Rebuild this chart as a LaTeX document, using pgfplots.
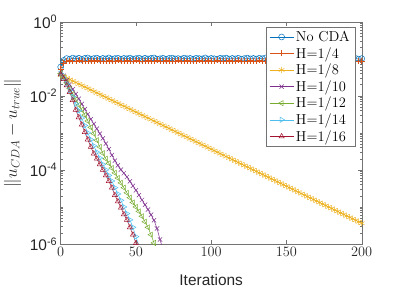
\documentclass[border=0pt]{standalone}
\usepackage{pgfplots}
\pgfplotsset{compat=1.18}
\usepackage{fontspec}
\newfontfamily\arial{Liberation Sans}
\definecolor{mblue}{rgb}{0,0.447,0.741}
\definecolor{morange}{rgb}{0.850,0.325,0.098}
\definecolor{myellow}{rgb}{0.929,0.694,0.125}
\definecolor{mpurple}{rgb}{0.494,0.184,0.556}
\definecolor{mgreen}{rgb}{0.466,0.674,0.188}
\definecolor{mcyan}{rgb}{0.301,0.745,0.933}
\definecolor{mred}{rgb}{0.635,0.078,0.184}
\begin{document}
\begin{tikzpicture}
\begin{axis}[
 name=ax, at={(0,0)}, anchor=south west,
 scale only axis, width=301bp, height=222.3bp,
 xmin=0, xmax=200, ymin=1e-6, ymax=1,
 ymode=log,
 xtick={0,50,100,150,200},
 ytick={1e-6,1e-4,1e-2,1},
 yticklabels={10\textsuperscript{-6},10\textsuperscript{-4},10\textsuperscript{-2},10\textsuperscript{0}},
 minor ytick={2e-6,3e-6,4e-6,5e-6,6e-6,7e-6,8e-6,9e-6,1e-5,2e-5,3e-5,4e-5,5e-5,6e-5,7e-5,8e-5,9e-5,
   2e-4,3e-4,4e-4,5e-4,6e-4,7e-4,8e-4,9e-4,1e-3,2e-3,3e-3,4e-3,5e-3,6e-3,7e-3,8e-3,9e-3,
   2e-2,3e-2,4e-2,5e-2,6e-2,7e-2,8e-2,9e-2,1e-1,2e-1,3e-1,4e-1,5e-1,6e-1,7e-1,8e-1,9e-1},
 tick align=inside, tick pos=both,
 major tick length=4bp, minor tick length=2bp,
 axis line style={black!55},
 every tick/.style={black!55},
 ticklabel style={font=\arial\fontsize{15.5}{18}\selectfont, text=black!85},
 xlabel={Iterations},
 ylabel={$\|u_{CDA}-u_{true}\|$},
 xlabel style={font=\arial\fontsize{15.5}{18}\selectfont, text=black!85, at={(axis description cs:0.5,-0.162)}, anchor=center},
 ylabel style={font=\fontsize{18}{21}\selectfont, text=black!85, at={(axis description cs:-0.16,0.5)}, anchor=center},
 legend style={at={(1,1)}, anchor=north east, xshift=-6.7bp, yshift=-5bp,
   font=\fontsize{14.5}{16}\selectfont, draw=black!55, line width=0.5pt,
   nodes={inner sep=2.15pt}},
 legend cell align=left,
 legend image code/.code={\draw[mark repeat=2,mark phase=2,#1] plot coordinates {(0bp,0bp) (12bp,0bp) (24bp,0bp)};},
 every axis plot/.append style={line width=0.5pt},
]
\addplot[mblue, mark=o, mark size=3pt] coordinates {
(0,0.060)(2,0.090)(4,0.101)(6,0.097)(8,0.104)(10,0.099)(12,0.103)(14,0.096)(16,0.102)(18,0.105)(20,0.098)(22,0.101)(24,0.104)(26,0.097)(28,0.102)(30,0.099)(32,0.105)(34,0.098)(36,0.101)(38,0.103)(40,0.097)(42,0.102)(44,0.100)(46,0.104)(48,0.098)(50,0.101)(52,0.104)(54,0.097)(56,0.103)(58,0.099)(60,0.102)(62,0.105)(64,0.098)(66,0.100)(68,0.103)(70,0.097)(72,0.102)(74,0.104)(76,0.099)(78,0.101)(80,0.098)(82,0.104)(84,0.100)(86,0.102)(88,0.097)(90,0.103)(92,0.101)(94,0.099)(96,0.105)(98,0.098)(100,0.102)(102,0.100)(104,0.097)(106,0.103)(108,0.101)(110,0.104)(112,0.098)(114,0.102)(116,0.099)(118,0.103)(120,0.097)(122,0.101)(124,0.104)(126,0.099)(128,0.102)(130,0.098)(132,0.103)(134,0.100)(136,0.105)(138,0.098)(140,0.101)(142,0.103)(144,0.097)(146,0.102)(148,0.100)(150,0.104)(152,0.098)(154,0.101)(156,0.103)(158,0.099)(160,0.102)(162,0.097)(164,0.104)(166,0.100)(168,0.102)(170,0.098)(172,0.103)(174,0.101)(176,0.099)(178,0.104)(180,0.097)(182,0.102)(184,0.100)(186,0.103)(188,0.098)(190,0.101)(192,0.104)(194,0.099)(196,0.102)(198,0.098)(200,0.101)};
\addlegendentry{No CDA}
\addplot[morange, mark=+, mark size=3pt] coordinates {
(0,0.052)(2,0.078)(4,0.086)(6,0.089)(8,0.085)(10,0.088)(12,0.090)(14,0.086)(16,0.088)(18,0.085)(20,0.089)(22,0.087)(24,0.090)(26,0.086)(28,0.088)(30,0.085)(32,0.089)(34,0.087)(36,0.086)(38,0.090)(40,0.087)(42,0.085)(44,0.089)(46,0.088)(48,0.086)(50,0.090)(52,0.087)(54,0.085)(56,0.088)(58,0.089)(60,0.086)(62,0.088)(64,0.090)(66,0.085)(68,0.087)(70,0.089)(72,0.086)(74,0.088)(76,0.085)(78,0.090)(80,0.087)(82,0.086)(84,0.089)(86,0.088)(88,0.085)(90,0.087)(92,0.090)(94,0.086)(96,0.088)(98,0.089)(100,0.085)(102,0.087)(104,0.090)(106,0.086)(108,0.088)(110,0.085)(112,0.089)(114,0.087)(116,0.086)(118,0.090)(120,0.088)(122,0.085)(124,0.087)(126,0.089)(128,0.086)(130,0.088)(132,0.090)(134,0.085)(136,0.087)(138,0.089)(140,0.086)(142,0.088)(144,0.085)(146,0.090)(148,0.087)(150,0.086)(152,0.089)(154,0.088)(156,0.085)(158,0.087)(160,0.090)(162,0.086)(164,0.088)(166,0.089)(168,0.085)(170,0.087)(172,0.090)(174,0.086)(176,0.088)(178,0.085)(180,0.089)(182,0.087)(184,0.086)(186,0.090)(188,0.088)(190,0.085)(192,0.087)(194,0.089)(196,0.086)(198,0.088)(200,0.087)};
\addlegendentry{H=1/4}
\addplot[myellow, mark=asterisk, mark size=3.2pt] coordinates {
(0,3.631e-2)(2,3.311e-2)(4,3.020e-2)(6,2.754e-2)(8,2.512e-2)(10,2.291e-2)(12,2.089e-2)(14,1.905e-2)(16,1.738e-2)(18,1.585e-2)(20,1.445e-2)(22,1.318e-2)(24,1.202e-2)(26,1.096e-2)(28,1.000e-2)(30,9.12e-3)(32,8.32e-3)(34,7.59e-3)(36,6.92e-3)(38,6.31e-3)(40,5.75e-3)(42,5.25e-3)(44,4.79e-3)(46,4.37e-3)(48,3.981e-3)
(50,3.631e-3)(52,3.311e-3)(54,3.020e-3)(56,2.754e-3)(58,2.512e-3)(60,2.291e-3)(62,2.089e-3)(64,1.905e-3)(66,1.738e-3)(68,1.585e-3)(70,1.445e-3)(72,1.318e-3)(74,1.202e-3)(76,1.096e-3)(78,1.000e-3)(80,9.12e-4)(82,8.32e-4)(84,7.59e-4)(86,6.92e-4)(88,6.31e-4)(90,5.75e-4)(92,5.25e-4)(94,4.79e-4)(96,4.37e-4)(98,3.981e-4)
(100,3.631e-4)(102,3.311e-4)(104,3.020e-4)(106,2.754e-4)(108,2.512e-4)(110,2.291e-4)(112,2.089e-4)(114,1.905e-4)(116,1.738e-4)(118,1.585e-4)(120,1.445e-4)(122,1.318e-4)(124,1.202e-4)(126,1.096e-4)(128,1.000e-4)(130,9.12e-5)(132,8.32e-5)(134,7.59e-5)(136,6.92e-5)(138,6.31e-5)(140,5.75e-5)(142,5.25e-5)(144,4.79e-5)(146,4.37e-5)(148,3.981e-5)
(150,3.631e-5)(152,3.311e-5)(154,3.020e-5)(156,2.754e-5)(158,2.512e-5)(160,2.291e-5)(162,2.089e-5)(164,1.905e-5)(166,1.738e-5)(168,1.585e-5)(170,1.445e-5)(172,1.318e-5)(174,1.202e-5)(176,1.096e-5)(178,1.000e-5)(180,9.12e-6)(182,8.32e-6)(184,7.59e-6)(186,6.92e-6)(188,6.31e-6)(190,5.75e-6)(192,5.25e-6)(194,4.79e-6)(196,4.37e-6)(198,3.981e-6)(200,3.631e-6)};
\addlegendentry{H=1/8}
\addplot[mpurple, mark=x, mark size=3pt] coordinates {
(0,3.98e-2)(2,3.47e-2)(4,2.63e-2)(6,2.00e-2)(8,1.51e-2)(10,1.12e-2)(12,8.32e-3)(14,6.03e-3)(16,4.37e-3)(18,3.16e-3)(20,2.34e-3)(22,1.74e-3)(24,1.29e-3)(26,9.55e-4)(28,7.08e-4)(30,5.13e-4)(32,3.63e-4)(34,2.51e-4)(36,1.78e-4)(38,1.32e-4)(40,1.02e-4)(42,8.13e-5)(44,6.46e-5)(46,4.90e-5)(48,3.72e-5)(50,2.82e-5)(52,2.09e-5)(54,1.55e-5)(56,1.15e-5)(58,8.51e-6)(60,6.17e-6)(62,4.37e-6)(64,2.63e-6)(66,1.32e-6)(67,9.55e-7)(68,7.08e-7)};
\addlegendentry{H=1/10}
\addplot[mgreen, mark=triangle, mark size=3pt, mark options={rotate=90}] coordinates {
(0,3.98e-2)(2,3.16e-2)(4,2.24e-2)(6,1.58e-2)(8,1.12e-2)(10,7.94e-3)(12,5.62e-3)(14,4.17e-3)(16,3.02e-3)(18,2.09e-3)(20,1.41e-3)(22,9.55e-4)(24,6.31e-4)(26,4.17e-4)(28,2.82e-4)(30,2.00e-4)(32,1.51e-4)(34,1.12e-4)(36,8.32e-5)(38,6.03e-5)(40,4.47e-5)(42,3.31e-5)(44,2.40e-5)(46,1.78e-5)(48,1.32e-5)(50,1.00e-5)(52,7.59e-6)(54,5.62e-6)(56,3.98e-6)(58,2.82e-6)(60,1.78e-6)(62,1.07e-6)(63,8.32e-7)};
\addlegendentry{H=1/12}
\addplot[mcyan, mark=triangle, mark size=3pt, mark options={rotate=-90}] coordinates {
(0,3.98e-2)(2,3.02e-2)(4,2.09e-2)(6,1.41e-2)(8,9.55e-3)(10,6.03e-3)(12,3.98e-3)(14,2.51e-3)(16,1.58e-3)(18,1.00e-3)(20,6.61e-4)(22,4.47e-4)(24,3.02e-4)(26,2.09e-4)(28,1.41e-4)(30,1.00e-4)(32,7.08e-5)(34,5.01e-5)(36,3.31e-5)(38,2.24e-5)(40,1.51e-5)(42,1.00e-5)(44,6.61e-6)(46,4.47e-6)(48,2.82e-6)(50,1.58e-6)(52,8.91e-7)};
\addlegendentry{H=1/14}
\addplot[mred, mark=triangle, mark size=3pt] coordinates {
(0,3.80e-2)(2,2.82e-2)(4,1.91e-2)(6,1.26e-2)(8,7.59e-3)(10,4.17e-3)(12,2.63e-3)(14,1.66e-3)(16,1.05e-3)(18,6.61e-4)(20,4.17e-4)(22,2.75e-4)(24,2.00e-4)(26,1.41e-4)(28,1.00e-4)(30,7.08e-5)(32,5.01e-5)(34,3.31e-5)(36,2.09e-5)(38,1.41e-5)(40,9.55e-6)(42,6.31e-6)(44,4.47e-6)(46,2.82e-6)(48,1.78e-6)(50,1.05e-6)(51,8.32e-7)};
\addlegendentry{H=1/16}
\end{axis}
\path[use as bounding box] (-60.7bp,-47bp) rectangle (338.3bp,244bp);
\end{tikzpicture}
\end{document}
